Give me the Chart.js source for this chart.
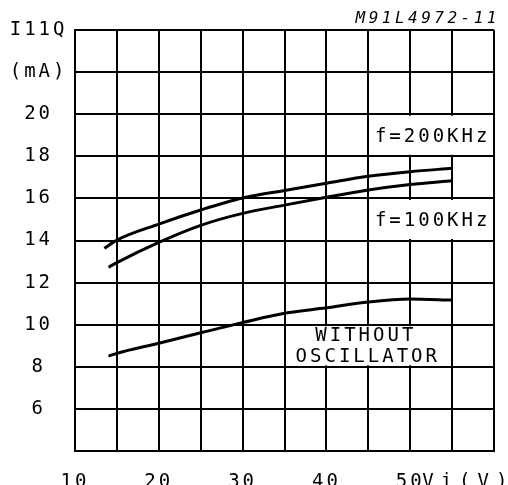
<!DOCTYPE html>
<html>
<head>
<meta charset="utf-8">
<script src="https://cdn.jsdelivr.net/npm/chart.js@4/dist/chart.umd.min.js"></script>
<style>
  html, body { margin: 0; padding: 0; background: #fff; overflow: hidden; }
  canvas { display: block; }
</style>
</head>
<body>
<canvas id="c" width="508" height="485"></canvas>
<script>
// Quiescent supply current I11Q against input voltage Vi
const vi200 = [13.5, 15, 20, 25, 30, 35, 40, 45, 50, 55];
const i200 = [13.63, 14.02, 14.78, 15.45, 16.02, 16.38, 16.72, 17.05, 17.27, 17.43];

const vi100 = [14, 15, 20, 25, 30, 35, 40, 45, 50, 55];
const i100 = [12.73, 12.95, 13.91, 14.72, 15.29, 15.68, 16.05, 16.4, 16.66, 16.84];

const viNoOsc = [14, 15, 20, 25, 30, 35, 40, 45, 50, 55];
const iNoOsc = [8.51, 8.64, 9.12, 9.62, 10.1, 10.54, 10.8, 11.08, 11.22, 11.17];

const xTickValues = [10, 15, 20, 25, 30, 35, 40, 45, 50, 55, 60];
const xTickLabels = ['10', '', '20', '', '30', '', '40', '', '50', '', ''];
const yTickValues = [4, 6, 8, 10, 12, 14, 16, 18, 20, 22, 24];
const yTickLabels = ['', '6', '8', '10', '12', '14', '16', '18', '20', '(mA)', 'I11Q'];

const seriesNames = ['f=200KHz', 'f=100KHz', 'WITHOUT OSCILLATOR'];
const xUnit = 'Vi(V)';
const figureCode = 'M91L4972-11';

const FONT = '"DejaVu Sans Mono", monospace';
const FONT_SIZE = 19;
const TICK_PAD_X = 20;

function points(xs, ys) {
  return xs.map((x, i) => ({ x: x, y: ys[i] }));
}

function curve(label, xs, ys) {
  return {
    label: label,
    data: points(xs, ys),
    borderColor: '#000',
    borderWidth: 3,
    pointRadius: 0,
    fill: false,
    tension: 0.4,
    cubicInterpolationMode: 'monotone'
  };
}

// wide-tracked lettering used throughout the sheet
const tracking = {
  id: 'tracking',
  beforeUpdate(chart) { chart.ctx.letterSpacing = '3px'; },
  beforeDraw(chart) { chart.ctx.letterSpacing = '3px'; }
};

// white panels that hold the curve names, plus axis unit and figure code
const annotations = {
  id: 'annotations',
  beforeDatasetsDraw(chart) {
    const ctx = chart.ctx;
    const xs = chart.scales.x, ys = chart.scales.y;
    const panels = [
      { x0: 45, x1: 60, y0: 20, y1: 18, lines: [seriesNames[0]], dx: [0], dy: 2 },
      { x0: 45, x1: 60, y0: 16, y1: 14, lines: [seriesNames[1]], dx: [0], dy: 2 },
      { x0: 35, x1: 55, y0: 10, y1: 8, lines: seriesNames[2].split(' '), dx: [-4, -2], dy: 1 }
    ];
    ctx.save();
    ctx.letterSpacing = '3px';
    ctx.font = FONT_SIZE + 'px ' + FONT;
    ctx.textAlign = 'center';
    ctx.textBaseline = 'middle';
    panels.forEach(p => {
      const l = xs.getPixelForValue(p.x0), r = xs.getPixelForValue(p.x1);
      const t = ys.getPixelForValue(p.y0), b = ys.getPixelForValue(p.y1);
      ctx.fillStyle = '#fff';
      ctx.fillRect(l + 1.5, t + 1.5, r - l - 3, b - t - 3);
      ctx.fillStyle = '#000';
      const cx = (l + r) / 2 + 1.5, cy = (t + b) / 2 + p.dy;
      const n = p.lines.length;
      p.lines.forEach((s, i) => {
        ctx.fillText(s, cx + p.dx[i], cy + (i - (n - 1) / 2) * 21);
      });
    });
    ctx.restore();
  },
  afterDraw(chart) {
    const ctx = chart.ctx;
    const xs = chart.scales.x;
    ctx.save();
    ctx.fillStyle = '#000';
    ctx.letterSpacing = '7px';
    ctx.font = FONT_SIZE + 'px ' + FONT;
    ctx.textAlign = 'left';
    ctx.textBaseline = 'middle';
    ctx.fillText(xUnit, xs.getPixelForValue(50) + 12, xs.top + TICK_PAD_X + FONT_SIZE * 0.6);

    ctx.letterSpacing = '3.5px';
    ctx.font = 'italic 16px ' + FONT;
    ctx.textAlign = 'right';
    ctx.textBaseline = 'alphabetic';
    ctx.fillText(figureCode, 500, 23);
    ctx.restore();
  }
};

new Chart(document.getElementById('c'), {
  type: 'line',
  data: {
    datasets: [
      curve(seriesNames[0], vi200, i200),
      curve(seriesNames[1], vi100, i100),
      curve(seriesNames[2], viNoOsc, iNoOsc)
    ]
  },
  options: {
    responsive: false,
    animation: false,
    devicePixelRatio: 1,
    layout: { autoPadding: false, padding: { top: 30, right: 14, bottom: 0, left: 0 } },
    plugins: {
      legend: { display: false },
      tooltip: { enabled: false },
      title: { display: false }
    },
    scales: {
      x: {
        type: 'linear',
        min: 10,
        max: 60,
        afterBuildTicks(scale) { scale.ticks = xTickValues.map(v => ({ value: v })); },
        afterFit(scale) {
          scale.height = 34;
          scale.paddingLeft = 0;
          scale.paddingRight = 0;
        },
        grid: { color: '#000', lineWidth: 2, drawTicks: false },
        border: { display: true, color: '#000', width: 2 },
        ticks: {
          autoSkip: false,
          maxRotation: 0,
          padding: TICK_PAD_X,
          color: '#000',
          font: { family: FONT, size: FONT_SIZE },
          callback: v => xTickLabels[xTickValues.indexOf(v)]
        }
      },
      y: {
        type: 'linear',
        min: 4,
        max: 24,
        afterBuildTicks(scale) { scale.ticks = yTickValues.map(v => ({ value: v })); },
        afterFit(scale) {
          scale.width = 75;
          scale.paddingTop = 0;
          scale.paddingBottom = 0;
        },
        grid: { color: '#000', lineWidth: 2, drawTicks: false },
        border: { display: true, color: '#000', width: 2 },
        ticks: {
          autoSkip: false,
          crossAlign: 'center',
          padding: 7.5,
          color: '#000',
          font: { family: FONT, size: FONT_SIZE },
          callback: v => yTickLabels[yTickValues.indexOf(v)]
        }
      }
    }
  },
  plugins: [tracking, annotations]
});
</script>
</body>
</html>
